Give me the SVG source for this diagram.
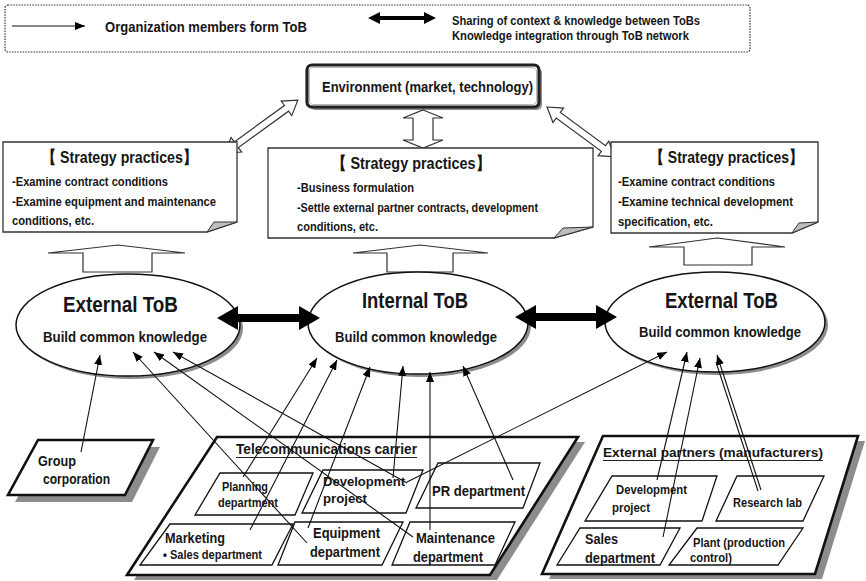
<svg xmlns="http://www.w3.org/2000/svg" width="866" height="581" viewBox="0 0 866 581">
  <defs>
    <style>
      .t { font-family: "Liberation Sans", Arial, sans-serif; font-weight: bold; fill: #161616; }
      .box { fill: #fff; stroke: #1a1a1a; stroke-width: 1.3; }
      .note { fill: #fff; stroke: #333; stroke-width: 1.3; }
      .curl { fill: #bdbdbd; stroke: #333; stroke-width: 1; }
      .shadow { fill: #8c8c8c; stroke: none; }
      .para { fill: #fff; stroke: #111; stroke-width: 2.6; }
      .sub { fill: #fff; stroke: #111; stroke-width: 1.3; }
      .tob { fill: #fff; stroke: #111; stroke-width: 1.5; }
      .open { fill: #fff; stroke: #333; stroke-width: 1.2; stroke-linejoin: miter; }
      .thick { fill: #000; }
      .link { fill: none; stroke: #111; stroke-width: 1.1; marker-end: url(#ah); }
      .ul { stroke: #222; stroke-width: 1.1; }
    </style>
    <marker id="ah" viewBox="0 0 10 8" refX="10" refY="4" markerWidth="10" markerHeight="8" markerUnits="userSpaceOnUse" orient="auto">
      <path d="M0,0 L10,4 L0,8 Z" fill="#000"/>
    </marker>
  </defs>

  <!-- legend -->
  <g id="legend">
    <rect x="5" y="5" width="745" height="47" rx="3" fill="#fff" stroke="#333" stroke-width="1.2" stroke-dasharray="1.5 1.2"/>
    <line x1="12" y1="26" x2="85" y2="26" class="link"/>
    <text class="t" x="105" y="32" font-size="15" textLength="202" lengthAdjust="spacingAndGlyphs">Organization members form ToB</text>
    <polygon class="thick" points="368,18 380,12 380,16 424,16 424,12 436,18 424,24 424,20 380,20 380,24"/>
    <text class="t" x="452" y="24.5" font-size="12.5" textLength="248" lengthAdjust="spacingAndGlyphs">Sharing of context &amp; knowledge between ToBs</text>
    <text class="t" x="452" y="40" font-size="12.5" textLength="237" lengthAdjust="spacingAndGlyphs">Knowledge integration through ToB network</text>
  </g>

  <!-- environment -->
  <g id="environment">
    <rect x="310" y="68" width="232" height="42" rx="5" class="shadow"/>
    <rect x="307" y="65" width="232" height="42" rx="5" fill="#fff" stroke="#222" stroke-width="3.2"/>
    <rect x="309.5" y="67.5" width="227" height="37" rx="3.5" fill="none" stroke="#aaa" stroke-width="0.8"/>
    <text class="t" x="322" y="92" font-size="14.5" textLength="211" lengthAdjust="spacingAndGlyphs">Environment (market, technology)</text>
  </g>

  <!-- open double arrows between environment and strategy practices -->
  <g id="env-links">
    <polygon class="open" points="423,110 443,118 433,118 433,140 443,140 423,148 403,140 413,140 413,118 403,118"/>
    <g transform="translate(225,153) rotate(-36)">
      <polygon class="open" points="0,0 14,-9 14,-3.5 76,-3.5 76,-9 90,0 76,9 76,3.5 14,3.5 14,9"/>
    </g>
    <g transform="translate(547,107) rotate(36.3)">
      <polygon class="open" points="0,0 14,-9 14,-3.5 70,-3.5 70,-9 84,0 70,9 70,3.5 14,3.5 14,9"/>
    </g>
  </g>

  <!-- strategy practices notes -->
  <g id="strategy-left">
    <path class="note" d="M3,142 H237 V222 L207,232 H3 Z"/>
    <path class="curl" d="M207,232 L214,222 L237,222 Z"/>
    <text class="t" x="42" y="163" font-size="17" textLength="155" lengthAdjust="spacingAndGlyphs">【 Strategy practices】</text>
    <text class="t" x="12" y="186" font-size="13" textLength="156" lengthAdjust="spacingAndGlyphs">-Examine contract conditions</text>
    <text class="t" x="12" y="206" font-size="13" textLength="204" lengthAdjust="spacingAndGlyphs">-Examine equipment and maintenance</text>
    <text class="t" x="12" y="225" font-size="13" textLength="82" lengthAdjust="spacingAndGlyphs">conditions, etc.</text>
  </g>

  <g id="strategy-center">
    <path class="note" d="M268,148 H593 V227 L554,238 H268 Z"/>
    <path class="curl" d="M554,238 L563,228 L593,227 Z"/>
    <text class="t" x="332" y="169" font-size="17" textLength="158" lengthAdjust="spacingAndGlyphs">【 Strategy practices】</text>
    <text class="t" x="297" y="192" font-size="13" textLength="117" lengthAdjust="spacingAndGlyphs">-Business formulation</text>
    <text class="t" x="297" y="212" font-size="13" textLength="241" lengthAdjust="spacingAndGlyphs">-Settle external partner contracts, development</text>
    <text class="t" x="297" y="231" font-size="13" textLength="81" lengthAdjust="spacingAndGlyphs">conditions, etc.</text>
  </g>

  <g id="strategy-right">
    <path class="note" d="M611,142 H818 V222 L792,233 H611 Z"/>
    <path class="curl" d="M792,233 L799,223 L818,222 Z"/>
    <text class="t" x="650" y="163" font-size="17" textLength="153" lengthAdjust="spacingAndGlyphs">【 Strategy practices】</text>
    <text class="t" x="618" y="186" font-size="13" textLength="157" lengthAdjust="spacingAndGlyphs">-Examine contract conditions</text>
    <text class="t" x="618" y="206" font-size="13" textLength="175" lengthAdjust="spacingAndGlyphs">-Examine technical development</text>
    <text class="t" x="618" y="226" font-size="13" textLength="95" lengthAdjust="spacingAndGlyphs">specification, etc.</text>
  </g>

  <!-- upward block arrows from ToBs to strategy practices -->
  <g id="tob-up-arrows">
    <polygon class="open" points="118,245 185,253 152,253 152,272 83,272 83,253 48,253"/>
    <polygon class="open" points="420,245 488,253 453,253 453,272 387,272 387,253 353,253"/>
    <polygon class="open" points="717,238 785,247 752,247 752,265 684,265 684,247 649,247"/>
  </g>

  <!-- ToB ellipses -->
  <g id="tob-external-left">
    <ellipse cx="131" cy="328" rx="112" ry="51" class="shadow"/>
    <ellipse cx="128" cy="325" rx="112" ry="51" class="tob"/>
    <text class="t" x="63" y="312" font-size="22" textLength="115" lengthAdjust="spacingAndGlyphs">External ToB</text>
    <text class="t" x="43" y="342" font-size="14" textLength="164" lengthAdjust="spacingAndGlyphs">Build common knowledge</text>
  </g>

  <g id="tob-internal">
    <ellipse cx="421" cy="326" rx="110" ry="51" class="shadow"/>
    <ellipse cx="418" cy="323" rx="110" ry="51" class="tob"/>
    <text class="t" x="362" y="308" font-size="22" textLength="106" lengthAdjust="spacingAndGlyphs">Internal ToB</text>
    <text class="t" x="335" y="342" font-size="14" textLength="162" lengthAdjust="spacingAndGlyphs">Build common knowledge</text>
  </g>

  <g id="tob-external-right">
    <ellipse cx="718" cy="325" rx="110" ry="50" class="shadow"/>
    <ellipse cx="715" cy="322" rx="110" ry="50" class="tob"/>
    <text class="t" x="665" y="308" font-size="22" textLength="113" lengthAdjust="spacingAndGlyphs">External ToB</text>
    <text class="t" x="639" y="337" font-size="14" textLength="162" lengthAdjust="spacingAndGlyphs">Build common knowledge</text>
  </g>

  <!-- thick double arrows between ToBs -->
  <g id="tob-network">
    <polygon class="thick" points="217,318 238,306 238,314 299,314 299,306 320,318 299,330 299,322 238,322 238,330"/>
    <polygon class="thick" points="515,317 536,305 536,313 596,313 596,305 617,317 596,329 596,321 536,321 536,329"/>
  </g>

  <!-- group corporation -->
  <g id="group-corporation">
    <polygon class="shadow" points="45,447 160,447 132,502 15,502"/>
    <polygon class="para" points="38,440 153,440 125,495 8,495"/>
    <text class="t" x="38" y="466" font-size="15" textLength="38" lengthAdjust="spacingAndGlyphs">Group</text>
    <text class="t" x="43" y="484" font-size="15" textLength="67" lengthAdjust="spacingAndGlyphs">corporation</text>
  </g>

  <!-- telecommunications carrier -->
  <g id="telecom-carrier">
    <polygon class="shadow" points="224,442 585,442 497,580 134,580"/>
    <polygon class="para" points="217,437 578,437 490,575 127,575"/>
    <text class="t" x="236" y="454" font-size="14" textLength="181" lengthAdjust="spacingAndGlyphs">Telecommunications carrier</text>
    <line class="ul" x1="236" y1="457.5" x2="417" y2="457.5"/>
  </g>

  <g id="planning-department">
    <polygon class="sub" points="220,473 313,473 295,515 195,515"/>
    <text class="t" x="222" y="491" font-size="12.5" textLength="46" lengthAdjust="spacingAndGlyphs">Planning</text>
    <text class="t" x="218" y="507" font-size="12.5" textLength="60" lengthAdjust="spacingAndGlyphs">department</text>
  </g>

  <g id="development-project">
    <polygon class="sub" points="323,470 423,470 406,513 302,513"/>
    <text class="t" x="323" y="486" font-size="13.5" textLength="82" lengthAdjust="spacingAndGlyphs">Development</text>
    <text class="t" x="323" y="503" font-size="13.5" textLength="44" lengthAdjust="spacingAndGlyphs">project</text>
  </g>

  <g id="pr-department">
    <polygon class="sub" points="438,463 540,463 523,508 416,508"/>
    <text class="t" x="432" y="496" font-size="15" textLength="93" lengthAdjust="spacingAndGlyphs">PR department</text>
  </g>

  <g id="marketing">
    <polygon class="sub" points="170,524 293,524 272,565 140,565"/>
    <text class="t" x="165" y="543" font-size="15" textLength="60" lengthAdjust="spacingAndGlyphs">Marketing</text>
    <text class="t" x="163" y="559" font-size="12" textLength="99" lengthAdjust="spacingAndGlyphs">• Sales department</text>
  </g>

  <g id="equipment-department">
    <polygon class="sub" points="295,522 403,522 382,565 278,565"/>
    <text class="t" x="313" y="538" font-size="15" textLength="67" lengthAdjust="spacingAndGlyphs">Equipment</text>
    <text class="t" x="310" y="557" font-size="15" textLength="70" lengthAdjust="spacingAndGlyphs">department</text>
  </g>

  <g id="maintenance-department">
    <polygon class="sub" points="410,522 515,522 495,565 392,565"/>
    <text class="t" x="416" y="543" font-size="15" textLength="79" lengthAdjust="spacingAndGlyphs">Maintenance</text>
    <text class="t" x="413" y="562" font-size="15" textLength="70" lengthAdjust="spacingAndGlyphs">department</text>
  </g>

  <!-- external partners -->
  <g id="external-partners">
    <polygon class="shadow" points="610,441 865,441 822,579 549,579"/>
    <polygon class="para" points="603,436 858,436 815,574 542,574"/>
    <text class="t" x="603" y="457" font-size="13.5" textLength="220" lengthAdjust="spacingAndGlyphs">External partners (manufacturers)</text>
    <line class="ul" x1="603" y1="460.5" x2="823" y2="460.5"/>
  </g>

  <g id="partner-development-project">
    <polygon class="sub" points="612,476 717,476 702,521 585,521"/>
    <text class="t" x="616" y="494" font-size="12.5" textLength="71" lengthAdjust="spacingAndGlyphs">Development</text>
    <text class="t" x="612" y="512" font-size="12.5" textLength="38" lengthAdjust="spacingAndGlyphs">project</text>
  </g>

  <g id="research-lab">
    <polygon class="sub" points="737,476 824,476 803,521 716,521"/>
    <text class="t" x="733" y="507" font-size="12.5" textLength="69" lengthAdjust="spacingAndGlyphs">Research lab</text>
  </g>

  <g id="partner-sales-department">
    <polygon class="sub" points="580,528 680,528 660,565 557,565"/>
    <text class="t" x="585" y="544" font-size="15" textLength="33" lengthAdjust="spacingAndGlyphs">Sales</text>
    <text class="t" x="585" y="563" font-size="15" textLength="70" lengthAdjust="spacingAndGlyphs">department</text>
  </g>

  <g id="plant">
    <polygon class="sub" points="697,528 803,528 778,565 669,565"/>
    <text class="t" x="693" y="547" font-size="12.5" textLength="92" lengthAdjust="spacingAndGlyphs">Plant (production</text>
    <text class="t" x="690" y="562" font-size="12.5" textLength="42" lengthAdjust="spacingAndGlyphs">control)</text>
  </g>

  <!-- members forming ToBs -->
  <g id="connectors">
    <line class="link" x1="81" y1="452" x2="100" y2="355"/>
    <line class="link" x1="307" y1="543" x2="133" y2="352"/>
    <line class="link" x1="413" y1="537" x2="154" y2="352"/>
    <line class="link" x1="407" y1="483" x2="173" y2="352"/>

    <line class="link" x1="243" y1="477" x2="317" y2="358"/>
    <line class="link" x1="250" y1="530" x2="337" y2="360"/>
    <line class="link" x1="308" y1="528" x2="370" y2="367"/>
    <line class="link" x1="393" y1="478" x2="403" y2="366"/>
    <line class="link" x1="430" y1="530" x2="430" y2="372"/>
    <line class="link" x1="513" y1="480" x2="463" y2="366"/>

    <line class="link" x1="407" y1="482" x2="667" y2="352"/>
    <line class="link" x1="657" y1="480" x2="687" y2="352"/>
    <line class="link" x1="663" y1="537" x2="700" y2="358"/>
    <line class="link" x1="761" y1="490" x2="717" y2="355"/>
    <line x1="758" y1="491" x2="716" y2="362" stroke="#111" stroke-width="1.1"/>
  </g>
</svg>
